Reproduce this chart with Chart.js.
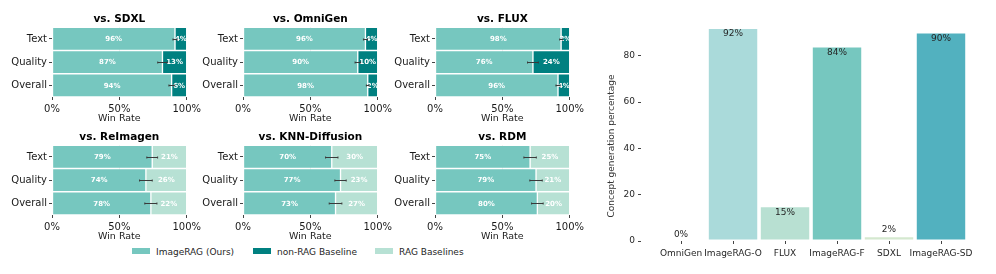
<!DOCTYPE html>
<html lang="en">
<head>
<meta charset="UTF-8">
<title>ImageRAG user study and concept generation</title>
<script src="https://cdn.jsdelivr.net/npm/chart.js@4"></script>
<style>
  body { margin: 0; background: #fff; width: 996px; height: 274px; position: relative; overflow: hidden; font-family: "DejaVu Sans", sans-serif; }
  canvas { position: absolute; }
  .key { position: absolute; top: 246px; font-size: 9px; color: #262626; line-height: 12px; white-space: nowrap; }
  .key i { display: inline-block; width: 18px; height: 6px; vertical-align: 1px; margin-right: 6px; }
</style>
</head>
<body>
<div class="key" style="left:132px"><i style="background:#76c7bf"></i>ImageRAG (Ours)</div>
<div class="key" style="left:253px"><i style="background:#008080"></i>non-RAG Baseline</div>
<div class="key" style="left:375px"><i style="background:#b7e1d4"></i>RAG Baselines</div>

<script>
// ---- win-rate panels ----
const rows = ['Text', 'Quality', 'Overall'];
const panelTitles = ['vs. SDXL', 'vs. OmniGen', 'vs. FLUX', 'vs. ReImagen', 'vs. KNN-Diffusion', 'vs. RDM'];
const baselineKind = ['non-RAG', 'non-RAG', 'non-RAG', 'RAG', 'RAG', 'RAG'];
// bar length of the ImageRAG part (as drawn)
const oursShare = [
  [91.3, 82.0, 88.8],
  [90.9, 85.2, 92.6],
  [93.6, 72.7, 91.3],
  [74.4, 69.7, 73.4],
  [65.9, 72.4, 68.7],
  [70.6, 75.0, 76.0]
];
// printed percentages
const oursLabel = [[96, 87, 94], [96, 90, 98], [98, 76, 96], [79, 74, 78], [70, 77, 73], [75, 79, 80]];
const baseLabel = [[4, 13, 6], [4, 10, 2], [2, 24, 4], [21, 26, 22], [30, 23, 27], [25, 21, 20]];
// half width of the error bars
const errHalf = [
  [1.5, 3.5, 2.0],
  [1.5, 2.0, 1.0],
  [1.0, 4.0, 1.5],
  [4.0, 4.7, 4.5],
  [4.6, 4.2, 4.7],
  [4.6, 4.6, 4.3]
];

// ---- concept generation ----
const methods = ['OmniGen', 'ImageRAG-O', 'FLUX', 'ImageRAG-F', 'SDXL', 'ImageRAG-SD'];
const conceptPct = [0, 92, 15, 84, 2, 90];
const yTicks = [0, 20, 40, 60, 80];

const cOurs = '#76c7bf', cNonRag = '#008080', cRag = '#b7e1d4';
const conceptColors = ['#aadada', '#aadada', '#b8e0d2', '#76c7bf', '#d4e8cf', '#52b1bf'];
const FONT = '"DejaVu Sans", sans-serif';

const barNotes = {
  id: 'barNotes',
  afterDatasetsDraw(chart, args, opts) {
    const ctx = chart.ctx, xs = chart.scales.x;
    ctx.save();
    ctx.font = 'bold 7px ' + FONT;
    ctx.fillStyle = '#fff';
    ctx.textAlign = 'center';
    ctx.textBaseline = 'middle';
    chart.data.datasets.forEach((ds, d) => {
      chart.getDatasetMeta(d).data.forEach((bar, j) => {
        ctx.fillText(ds.notes[j] + '%', (bar.x + bar.base) / 2, bar.y + 0.5);
      });
    });
    ctx.strokeStyle = '#3a3a3a';
    ctx.lineWidth = 1;
    chart.getDatasetMeta(0).data.forEach((bar, j) => {
      const v = chart.data.datasets[0].data[j], e = opts.err[j];
      const x1 = xs.getPixelForValue(v - e), x2 = xs.getPixelForValue(v + e);
      const y = Math.round(bar.y) + 0.5;
      ctx.beginPath();
      ctx.moveTo(x1, y); ctx.lineTo(x2, y);
      ctx.moveTo(x1, y - 1); ctx.lineTo(x1, y + 1);
      ctx.moveTo(x2, y - 1); ctx.lineTo(x2, y + 1);
      ctx.stroke();
    });
    ctx.restore();
  }
};

const colLeft = [0, 191, 383];
const rowTop = [0, 118];

panelTitles.forEach((title, i) => {
  const col = i % 3, row = Math.floor(i / 3);
  const cv = document.createElement('canvas');
  cv.width = 204; cv.height = 125;
  cv.style.left = colLeft[col] + 'px';
  cv.style.top = rowTop[row] + 'px';
  document.body.appendChild(cv);
  const baseColor = baselineKind[i] === 'non-RAG' ? cNonRag : cRag;
  const barStyle = { borderColor: '#fff', borderWidth: 1, borderSkipped: false, barPercentage: 1, categoryPercentage: 1 };
  new Chart(cv, {
    type: 'bar',
    data: {
      labels: rows,
      datasets: [
        Object.assign({ label: 'ImageRAG (Ours)', data: oursShare[i], backgroundColor: cOurs, notes: oursLabel[i] }, barStyle),
        Object.assign({ label: baselineKind[i] + ' baseline', data: oursShare[i].map(v => 100 - v), backgroundColor: baseColor, notes: baseLabel[i] }, barStyle)
      ]
    },
    options: {
      indexAxis: 'y',
      responsive: false,
      animation: false,
      layout: { padding: 0 },
      plugins: {
        legend: { display: false },
        tooltip: { enabled: false },
        title: {
          display: true, text: title, fullSize: false, color: '#000',
          font: { family: FONT, size: 10.5, weight: 'bold' },
          padding: { top: 12.5, bottom: 2.2 }
        },
        barNotes: { err: errHalf[i] }
      },
      scales: {
        x: {
          stacked: true, min: 0, max: 100, z: 1,
          border: { display: false },
          grid: {
            color: c => c.tick && c.tick.value === 50 ? 'rgba(60,60,60,0.35)' : 'rgba(0,0,0,0)',
            tickColor: '#444', tickLength: 3
          },
          ticks: { stepSize: 50, callback: v => v + '%', color: '#1a1a1a', font: { family: FONT, size: 10 }, padding: 3, maxRotation: 0 },
          title: { display: true, text: 'Win Rate', color: '#1a1a1a', font: { family: FONT, size: 9.5 }, padding: { top: 0, bottom: 1 } },
          afterFit: s => { s.height = 28; }
        },
        y: {
          stacked: true,
          border: { display: false },
          grid: { drawOnChartArea: false, offset: false, tickLength: 3, tickColor: '#444' },
          ticks: { color: '#1a1a1a', font: { family: FONT, size: 10 }, padding: 2 },
          afterFit: s => { s.width = 52; }
        }
      }
    },
    plugins: [barNotes]
  });
});

// ---- concept generation bar chart ----
const valueLabels = {
  id: 'valueLabels',
  afterDatasetsDraw(chart) {
    const ctx = chart.ctx;
    ctx.save();
    ctx.font = '9px ' + FONT;
    ctx.fillStyle = '#262626';
    ctx.textAlign = 'center';
    chart.getDatasetMeta(0).data.forEach((bar, j) => {
      const v = chart.data.datasets[0].data[j].y;
      if (v < 10) {
        ctx.textBaseline = 'bottom';
        ctx.fillText(v + '%', bar.x, bar.y - 2);
      } else {
        ctx.textBaseline = 'top';
        ctx.fillText(v + '%', bar.x, bar.y + 1.5);
      }
    });
    // y axis title, centred like the reference
    ctx.translate(chart.chartArea.left - 29, chart.chartArea.bottom - 95);
    ctx.rotate(-Math.PI / 2);
    ctx.textAlign = 'center';
    ctx.textBaseline = 'middle';
    ctx.fillStyle = '#333';
    ctx.fillText('Concept generation percentage', 0, 0);
    ctx.restore();
  }
};

const rc = document.createElement('canvas');
rc.width = 396; rc.height = 274;
rc.style.left = '600px'; rc.style.top = '0px';
document.body.appendChild(rc);
new Chart(rc, {
  type: 'bar',
  data: {
    datasets: [{
      label: 'Concept generation percentage',
      data: conceptPct.map((v, k) => ({ x: k, y: v })),
      backgroundColor: conceptColors,
      borderColor: '#fff', borderWidth: 1, borderSkipped: false,
      barPercentage: 0.97, categoryPercentage: 1
    }]
  },
  options: {
    responsive: false,
    animation: false,
    layout: { padding: { top: 21, right: 29, bottom: 10, left: 0 } },
    plugins: { legend: { display: false }, tooltip: { enabled: false } },
    scales: {
      x: {
        type: 'linear', min: -0.77, max: 5.5, offset: false,
        border: { display: false },
        grid: { drawOnChartArea: false, offset: false, tickLength: 3, tickColor: '#444' },
        afterBuildTicks: s => { s.ticks = methods.map((m, k) => ({ value: k })); },
        ticks: { callback: v => methods[v], color: '#262626', font: { family: FONT, size: 9 }, padding: 4, maxRotation: 0, autoSkip: false },
        afterFit: s => { s.height = 23; }
      },
      y: {
        min: 0, max: 95,
        border: { display: false },
        grid: { drawOnChartArea: false, tickLength: 3, tickColor: '#444' },
        afterBuildTicks: s => { s.ticks = yTicks.map(v => ({ value: v })); },
        ticks: { color: '#262626', font: { family: FONT, size: 9 }, padding: 3 },
        afterFit: s => { s.width = 41; }
      }
    }
  },
  plugins: [valueLabels]
});
</script>
</body>
</html>
